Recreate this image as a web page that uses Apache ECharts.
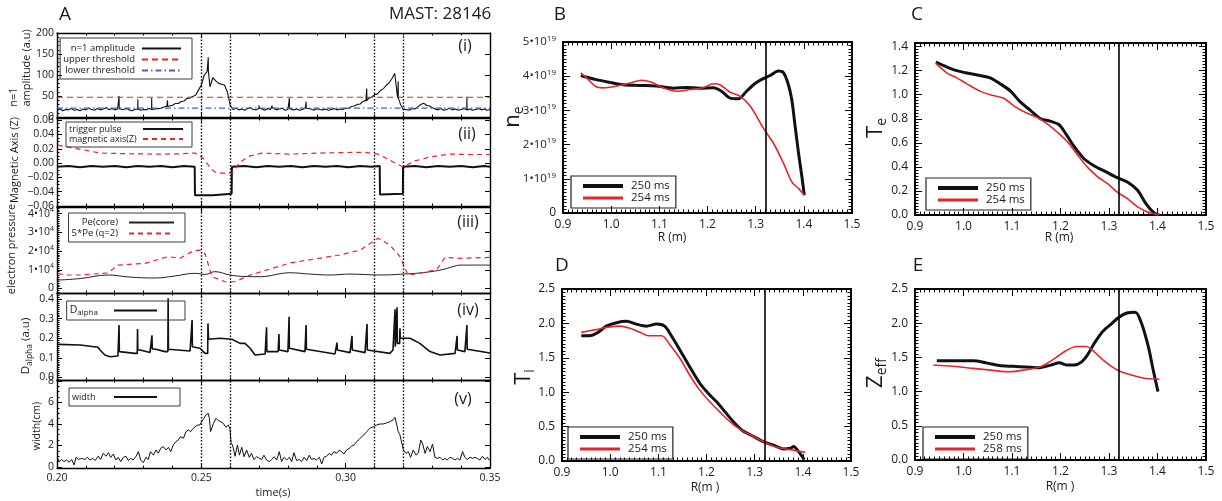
<!DOCTYPE html>
<html><head><meta charset="utf-8">
<script src="https://cdn.jsdelivr.net/npm/echarts@6/dist/echarts.min.js"></script>
<style>html,body{margin:0;padding:0;background:#fff}#c{width:1222px;height:501px}</style>
</head><body><div id="c"></div>
<script>
// ================= DATA =================
const eventLines = [0.2478, 0.2606, 0.3119, 0.3199];
const rSeparatrix = 1.317;

// (i) n=1 amplitude sampled every 1 ms from 0.200 s
const n1Start = 0.200, n1Step = 0.001;
const n1Amplitude = [
16,19,15,18,17,20,16,18,15,19,17,21,18,16,20,17,19,22,18,20,
17,19,16,18,20,17,15,18,19,16,18,17,20,18,19,20,
21,24,25,28,28,32,32,37,38,44,45,49,52,64,76,100,108,72,94,86,80,78,76,60,28,
18,21,17,19,16,20,22,18,17,21,19,16,20,18,22,17,19,21,16,18,20,17,19,16,18,21,17,19,16,20,18,17,19,16,18,20,17,19,18,21,
21,25,26,30,31,37,39,45,47,53,55,63,67,75,81,91,104,45,30,18,
18,16,20,19,24,30,33,28,26,22,19,17,20,16,18,21,17,19,16,18,20,17,19,16,18,20,17,19,16,18];
const n1Spikes = [[0.2215,50],[0.2280,42],[0.2328,45],[0.2383,40],[0.2524,142],[0.2700,28],[0.2745,27],[0.2805,45],[0.2863,36],[0.3073,68],[0.3182,85],[0.3420,48]];
const upperThreshold = 47;
const lowerThreshold = 21;

// (ii)
const triggerPulse = [[0.2000,-0.005],[0.2040,-0.004],[0.2080,-0.006],[0.2120,-0.004],[0.2160,-0.005],[0.2200,-0.004],[0.2240,-0.006],[0.2280,-0.004],[0.2320,-0.005],[0.2360,-0.004],[0.2400,-0.006],[0.2440,-0.004],[0.2477,-0.005],[0.2478,-0.045],[0.2540,-0.045],[0.2605,-0.043],[0.2606,-0.005],[0.2650,-0.004],[0.2690,-0.006],[0.2730,-0.004],[0.2770,-0.005],[0.2810,-0.004],[0.2850,-0.006],[0.2890,-0.004],[0.2930,-0.005],[0.2970,-0.004],[0.3010,-0.006],[0.3050,-0.004],[0.3090,-0.005],[0.3118,-0.004],[0.3119,-0.044],[0.3198,-0.043],[0.3199,-0.005],[0.3240,-0.004],[0.3280,-0.006],[0.3320,-0.004],[0.3360,-0.005],[0.3400,-0.004],[0.3440,-0.006],[0.3480,-0.004],[0.3500,-0.005]];
const magneticAxisZ = [[0.2003,0.025],[0.2045,0.022],[0.2097,0.018],[0.2149,0.014],[0.2253,0.013],[0.2357,0.0125],[0.2426,0.013],[0.2478,0.014],[0.2506,0.007],[0.2530,-0.006],[0.2547,-0.0125],[0.2572,-0.014],[0.2606,-0.014],[0.2634,0.0015],[0.2669,0.010],[0.2710,0.014],[0.2807,0.0125],[0.2911,0.014],[0.3032,0.015],[0.3067,0.015],[0.3112,0.0125],[0.3153,0.004],[0.3199,-0.0055],[0.3240,0.003],[0.3292,0.0085],[0.3361,0.0125],[0.3431,0.012],[0.3500,0.012]];

// (iii)
const peCore = [[0.2003,4500],[0.2080,5300],[0.2177,7200],[0.2253,6100],[0.2339,5600],[0.2409,6700],[0.2478,8100],[0.2513,7500],[0.2547,9000],[0.2599,7200],[0.2651,6400],[0.2703,6300],[0.2807,8400],[0.2876,7700],[0.2946,7200],[0.3015,7700],[0.3119,7200],[0.3199,7700],[0.3257,8300],[0.3327,9800],[0.3379,12000],[0.3396,12500],[0.3500,12500]];
const pe5q2 = [[0.2003,8100],[0.2028,7200],[0.2080,7200],[0.2177,8300],[0.2211,12500],[0.2305,13400],[0.2385,17000],[0.2426,16100],[0.2471,20000],[0.2495,20500],[0.2513,18400],[0.2537,6300],[0.2582,3600],[0.2617,3600],[0.2669,7200],[0.2807,13600],[0.2980,17900],[0.3050,20500],[0.3112,26800],[0.3153,23200],[0.3188,17000],[0.3216,7200],[0.3257,8100],[0.3316,10200],[0.3344,16600],[0.3396,16100],[0.3500,16600]];

// (iv)
const dAlpha = [[0.2003,0.169],[0.2080,0.166],[0.2142,0.154],[0.2149,0.140],[0.2166,0.115],[0.2184,0.106],[0.2211,0.110],
[0.2214,0.110],[0.2215,0.268],[0.2216,0.132],[0.2222,0.132],[0.2270,0.123],
[0.2278,0.123],[0.2279,0.247],[0.2280,0.140],[0.2288,0.140],[0.2322,0.127],
[0.2328,0.127],[0.2329,0.215],[0.2330,0.145],[0.2339,0.145],[0.2374,0.132],
[0.2384,0.132],[0.2385,0.404],[0.2386,0.144],[0.2391,0.144],[0.2461,0.135],
[0.2467,0.135],[0.2468,0.293],[0.2469,0.157],[0.2475,0.157],[0.2495,0.149],[0.2513,0.123],
[0.2522,0.123],[0.2523,0.276],[0.2525,0.195],[0.2530,0.195],[0.2565,0.200],[0.2606,0.195],[0.2634,0.174],[0.2651,0.174],[0.2669,0.149],[0.2686,0.115],[0.2721,0.120],
[0.2725,0.120],[0.2726,0.256],[0.2727,0.132],[0.2731,0.132],[0.2766,0.132],
[0.2768,0.132],[0.2769,0.222],[0.2770,0.140],[0.2776,0.140],[0.2800,0.132],
[0.2803,0.132],[0.2804,0.310],[0.2805,0.149],[0.2811,0.149],[0.2859,0.132],
[0.2862,0.132],[0.2863,0.268],[0.2864,0.144],[0.2869,0.144],[0.2963,0.120],
[0.2969,0.120],[0.2970,0.178],[0.2971,0.140],[0.2977,0.140],[0.3015,0.127],
[0.3021,0.127],[0.3022,0.212],[0.3023,0.140],[0.3029,0.140],[0.3067,0.127],
[0.3073,0.127],[0.3074,0.273],[0.3075,0.140],[0.3081,0.140],[0.3153,0.123],[0.3164,0.140],
[0.3170,0.140],[0.3171,0.348],[0.3172,0.157],[0.3174,0.157],
[0.3177,0.157],[0.3178,0.358],[0.3179,0.174],[0.3183,0.174],
[0.3187,0.174],[0.3188,0.251],[0.3189,0.200],
[0.3195,0.200],[0.3223,0.200],[0.3257,0.174],[0.3292,0.132],[0.3327,0.115],[0.3379,0.123],
[0.3385,0.123],[0.3386,0.212],[0.3387,0.140],[0.3393,0.140],[0.3413,0.132],
[0.3419,0.132],[0.3420,0.268],[0.3421,0.144],[0.3427,0.144],[0.3500,0.125]];

// (v)
const modeWidth = [
[0.2001,0.9],[0.2008,0.5],[0.2016,0.7],[0.2024,0.5],[0.2033,0.65],[0.2042,0.43],[0.2051,0.7],[0.2059,0.19],[0.2066,0.9],[0.2074,0.7],
[0.2085,0.8],[0.2097,0.7],[0.2105,0.9],[0.2114,0.65],[0.2124,0.8],[0.2132,0.6],[0.2143,1.0],[0.2151,0.7],[0.2160,1.27],[0.2170,1.0],
[0.2178,1.33],[0.2186,0.9],[0.2195,1.2],[0.2204,0.65],[0.2212,0.9],[0.2221,0.5],[0.2230,0.9],[0.2239,1.0],[0.2247,0.6],[0.2255,0.8],
[0.2264,0.65],[0.2274,1.0],[0.2282,1.43],[0.2290,0.65],[0.2299,0.4],[0.2308,0.9],[0.2316,0.7],[0.2324,1.43],[0.2334,1.1],[0.2343,1.58],
[0.2351,1.27],[0.2359,1.74],[0.2368,1.9],[0.2378,1.58],[0.2386,1.83],[0.2394,1.43],[0.2403,2.05],[0.2412,2.36],[0.2420,2.5],[0.2428,2.82],
[0.2438,2.67],[0.2447,3.29],[0.2455,3.44],[0.2463,3.29],[0.2472,3.6],[0.2478,3.69],[0.2486,3.9],[0.2495,3.9],[0.2501,4.22],[0.2509,4.53],
[0.2516,4.84],[0.2524,4.99],[0.2528,4.53],[0.2532,3.29],[0.2542,4.06],[0.2551,4.53],[0.2559,4.31],[0.2567,4.22],[0.2576,4.06],[0.2585,3.69],
[0.2593,3.9],[0.2599,3.6],[0.2603,2.26],[0.2608,2.05],[0.2617,1.0],[0.2625,2.05],[0.2632,1.1],[0.2640,1.83],[0.2648,0.96],[0.2657,1.58],
[0.2666,0.9],[0.2674,1.27],[0.2682,0.7],[0.2692,0.96],[0.2701,0.8],[0.2709,0.7],[0.2717,1.1],[0.2726,0.65],[0.2735,0.5],[0.2744,0.7],
[0.2752,0.96],[0.2761,0.65],[0.2770,1.43],[0.2778,0.5],[0.2786,0.9],[0.2796,0.65],[0.2805,0.9],[0.2813,0.5],[0.2821,1.33],[0.2830,0.6],
[0.2839,0.7],[0.2847,0.5],[0.2856,0.9],[0.2865,0.6],[0.2874,1.1],[0.2882,0.7],[0.2890,0.8],[0.2899,0.65],[0.2909,0.9],[0.2917,0.28],
[0.2925,0.9],[0.2934,1.0],[0.2943,1.27],[0.2951,1.1],[0.2959,1.43],[0.2969,1.27],[0.2978,1.58],[0.2986,1.43],[0.2994,1.2],[0.3003,1.58],
[0.3013,1.74],[0.3021,1.95],[0.3029,2.05],[0.3038,2.36],[0.3047,2.57],[0.3055,2.82],[0.3063,2.98],[0.3073,3.29],[0.3084,3.6],[0.3096,3.75],
[0.3107,3.9],[0.3119,4.0],[0.3130,4.0],[0.3142,4.1],[0.3153,4.2],[0.3165,4.4],[0.3171,4.62],[0.3177,3.9],[0.3182,3.3],[0.3188,3.0],
[0.3194,2.9],[0.3200,1.58],[0.3209,1.27],[0.3217,1.43],[0.3225,0.9],[0.3234,1.58],[0.3244,1.1],[0.3252,1.33],[0.3260,2.5],[0.3267,2.14],
[0.3275,1.27],[0.3283,1.9],[0.3292,1.43],[0.3301,2.14],[0.3309,0.9],[0.3317,0.8],[0.3327,0.9],[0.3336,0.65],[0.3344,0.8],[0.3352,0.65],
[0.3361,0.9],[0.3371,0.8],[0.3379,0.65],[0.3387,0.8],[0.3396,0.65],[0.3405,1.43],[0.3413,0.9],[0.3421,0.7],[0.3431,0.9],[0.3440,0.8],
[0.3448,0.9],[0.3456,0.8],[0.3465,0.65],[0.3474,1.0],[0.3483,0.7],[0.3491,0.9],[0.3498,0.6]];

// tick labels
const ampTicks = [0,50,100,150,200];
const zTicks = [-0.06,-0.04,-0.02,0,0.02,0.04,0.06];
const peTicks = [0,10000,20000,30000,40000];
const daTicks = [0,0.1,0.2,0.3,0.4];
const widthTicks = [0,2,4,6,8];
const neTicks = [0,1,2,3,4,5];
const teTicks = [0,0.2,0.4,0.6,0.8,1.0,1.2,1.4];
const tiTicks = [0,0.5,1.0,1.5,2.0,2.5];
const zeffTicks = [0,0.5,1.0,1.5,2.0,2.5];

// profiles (R in m)  ne in units of 1e19 m^-3
const ne250 = [[0.937,4.02],[0.969,3.90],[0.997,3.82],[1.025,3.75],[1.059,3.73],[1.094,3.71],[1.129,3.65],[1.157,3.67],[1.184,3.65],[1.212,3.66],[1.229,3.56],[1.247,3.36],[1.264,3.34],[1.281,3.56],[1.298,3.78],[1.316,3.93],[1.330,4.02],[1.347,4.15],[1.358,4.10],[1.368,3.75],[1.375,3.31],[1.382,2.53],[1.389,1.75],[1.396,1.06],[1.401,0.52]];
const ne254 = [[0.937,4.10],[0.949,3.95],[0.969,3.69],[0.983,3.66],[1.011,3.71],[1.039,3.80],[1.063,3.88],[1.084,3.82],[1.108,3.66],[1.136,3.56],[1.164,3.61],[1.191,3.66],[1.212,3.78],[1.226,3.75],[1.247,3.53],[1.268,3.41],[1.289,3.12],[1.316,2.48],[1.337,2.04],[1.358,1.45],[1.375,0.91],[1.389,0.72],[1.401,0.52]];
const te250 = [[0.943,1.27],[0.966,1.23],[0.986,1.20],[1.007,1.18],[1.034,1.16],[1.055,1.14],[1.076,1.09],[1.097,1.03],[1.117,0.94],[1.138,0.87],[1.159,0.80],[1.179,0.78],[1.197,0.75],[1.210,0.68],[1.228,0.57],[1.248,0.47],[1.269,0.41],[1.293,0.36],[1.317,0.31],[1.338,0.275],[1.359,0.205],[1.376,0.095],[1.393,0.017],[1.403,0.003]];
const te254 = [[0.943,1.26],[0.966,1.18],[0.986,1.14],[1.007,1.09],[1.034,1.03],[1.055,1.00],[1.083,0.97],[1.103,0.91],[1.124,0.86],[1.152,0.81],[1.172,0.76],[1.193,0.69],[1.214,0.61],[1.234,0.505],[1.255,0.40],[1.276,0.32],[1.297,0.26],[1.317,0.19],[1.338,0.136],[1.359,0.067],[1.379,0.025],[1.403,0.003]];
const ti250 = [[0.940,1.82],[0.957,1.82],[0.975,1.87],[0.992,1.96],[1.013,2.01],[1.034,2.03],[1.054,1.99],[1.075,1.96],[1.096,1.99],[1.113,1.96],[1.127,1.82],[1.145,1.61],[1.165,1.37],[1.186,1.13],[1.204,0.98],[1.221,0.86],[1.239,0.71],[1.256,0.57],[1.273,0.45],[1.297,0.36],[1.318,0.28],[1.339,0.23],[1.360,0.175],[1.374,0.185],[1.381,0.21],[1.388,0.165],[1.403,0.02]];
const ti254 = [[0.940,1.87],[0.971,1.91],[0.999,1.95],[1.020,1.96],[1.041,1.93],[1.062,1.87],[1.080,1.82],[1.107,1.82],[1.124,1.69],[1.145,1.49],[1.165,1.25],[1.186,1.03],[1.207,0.86],[1.228,0.71],[1.249,0.57],[1.270,0.46],[1.297,0.36],[1.318,0.28],[1.346,0.20],[1.374,0.165],[1.405,0.125]];
const zeff250 = [[0.945,1.45],[0.979,1.45],[1.020,1.45],[1.047,1.42],[1.074,1.38],[1.102,1.37],[1.129,1.36],[1.157,1.35],[1.181,1.39],[1.198,1.42],[1.212,1.39],[1.229,1.39],[1.243,1.43],[1.256,1.54],[1.270,1.71],[1.287,1.88],[1.305,1.99],[1.319,2.08],[1.337,2.15],[1.354,2.16],[1.367,2.00],[1.381,1.66],[1.391,1.32],[1.401,1.00]];
const zeff258 = [[0.938,1.39],[0.979,1.37],[1.020,1.34],[1.061,1.31],[1.095,1.29],[1.129,1.32],[1.157,1.36],[1.174,1.42],[1.191,1.50],[1.212,1.60],[1.233,1.66],[1.253,1.66],[1.267,1.60],[1.288,1.46],[1.305,1.37],[1.319,1.31],[1.343,1.25],[1.370,1.20],[1.404,1.18]];

// ================= BUILD =================
const FONT = 'Open Sans';
const RED = '#e3262d', BLUE = '#4f5fc4', BLK = '#111';
function stepList(a, b, step) { const out = []; const n = Math.round((b - a) / step); for (let i = 0; i <= n; i++) out.push(+(a + i * step).toFixed(6)); return out; }

const grids = [], xAxes = [], yAxes = [], series = [];
function panel(box, xo, yo) {
  const gi = grids.length;
  grids.push({left: box.l, top: box.t, width: box.w, height: box.h});
  const line = {show: true, onZero: false, lineStyle: {color: '#000', width: box.lw}};
  const ts = {color: '#000', width: 1};
  const xi = xAxes.length;
  ['bottom', 'top'].forEach((pos, k) => {
    xAxes.push({type: 'value', gridIndex: gi, position: pos, min: xo.min, max: xo.max, interval: xo.interval,
      axisLine: line, splitLine: {show: false},
      axisTick: {show: true, inside: true, length: xo.tick, lineStyle: ts},
      minorTick: {show: true, splitNumber: xo.minor, length: xo.minorLen, lineStyle: ts},
      axisLabel: {show: k === 0 && !!xo.labels, margin: xo.margin, formatter: xo.fmt, color: '#1a1a1a', fontSize: xo.fs, fontFamily: FONT}});
  });
  const yi = yAxes.length;
  const yb = {type: 'value', gridIndex: gi, min: yo.min, max: yo.max, splitLine: {show: false}};
  yAxes.push(Object.assign({}, yb, {position: 'left', axisLine: line,
    axisTick: {show: true, inside: true, length: yo.tick, lineStyle: ts, customValues: yo.ticks},
    axisLabel: {show: true, margin: yo.margin, customValues: yo.ticks, formatter: yo.fmt, color: '#1a1a1a', fontSize: yo.fs, fontFamily: FONT, rich: yo.rich || {}}}));
  yAxes.push(Object.assign({}, yb, {position: 'left', axisLine: {show: false}, axisLabel: {show: false},
    axisTick: {show: true, inside: true, length: yo.minorLen, lineStyle: ts, customValues: yo.minorVals}}));
  yAxes.push(Object.assign({}, yb, {position: 'right', axisLine: line, axisLabel: {show: false},
    axisTick: {show: true, inside: true, length: yo.tick, lineStyle: ts, customValues: yo.ticks}}));
  if (yo.rightMinor) yAxes.push(Object.assign({}, yb, {position: 'right', axisLine: {show: false}, axisLabel: {show: false},
    axisTick: {show: true, inside: true, length: yo.minorLen, lineStyle: ts, customValues: yo.minorVals}}));
  return {xi, yi};
}
function addLine(name, data, ax, color, width, type, extra) {
  const s = Object.assign({type: 'line', name, data, xAxisIndex: ax.xi, yAxisIndex: ax.yi, symbol: 'none', showSymbol: false,
    silent: true, animation: false, itemStyle: {color}, lineStyle: {color, width, type: type || 'solid'}}, extra || {});
  series.push(s);
  return s;
}
const supRich = {a: {fontSize: 10.5, fontFamily: FONT, color: '#1a1a1a', lineHeight: 14}, s: {fontSize: 7, fontFamily: FONT, color: '#1a1a1a', verticalAlign: 'top', lineHeight: 8}};
const supRichB = {a: {fontSize: 11.5, fontFamily: FONT, color: '#1a1a1a', lineHeight: 15}, s: {fontSize: 8, fontFamily: FONT, color: '#1a1a1a', verticalAlign: 'top', lineHeight: 8}};
const minus = v => (v < 0 ? '\u2212' : '');

// ---- left column ----
const LX = {min: 0.2, max: 0.35, interval: 0.05, minor: 5, tick: 5, minorLen: 2.5, fmt: v => v.toFixed(2), fs: 10.5, margin: 5};
const LB = (t, h) => ({l: 57, t, w: 433, h, lw: 1.4});
const dotted = () => ({silent: true, symbol: ['none', 'none'], label: {show: false}, animation: false,
  lineStyle: {type: [1.5, 1.8], color: '#000', width: 1.4}, data: eventLines.map(t => ({xAxis: t}))});

const a1 = panel(LB(33, 84), LX, {min: 0, max: 200, ticks: ampTicks, minorVals: stepList(0, 200, 10), tick: 5, minorLen: 2.5, fmt: v => String(v), fs: 10.5, margin: 3});
const a2 = panel(LB(118, 88), LX, {min: -0.06, max: 0.063, ticks: zTicks, minorVals: stepList(-0.06, 0.06, 0.005), tick: 5, minorLen: 2.5, fmt: v => minus(v) + Math.abs(v).toFixed(2), fs: 10.5, margin: 3});
const a3 = panel(LB(207, 86), LX, {min: -2400, max: 43500, ticks: peTicks, minorVals: stepList(-2000, 43000, 1000), tick: 5, minorLen: 2.5, fmt: v => v === 0 ? '0' : '{a|' + (v / 1e4) + '\u202210}{s|4}', rich: supRich, fs: 10.5, margin: 3});
const a4 = panel(LB(293, 87), LX, {min: -0.0128, max: 0.431, ticks: daTicks, minorVals: stepList(-0.01, 0.43, 0.01), tick: 5, minorLen: 2.5, fmt: v => v.toFixed(1), fs: 10.5, margin: 3});
const a5 = panel(LB(380, 88), Object.assign({}, LX, {labels: true}), {min: -0.093, max: 8.09, ticks: widthTicks, minorVals: stepList(0, 8, 0.5), tick: 5, minorLen: 2.5, fmt: v => String(v), fs: 10.5, margin: 3});

// (i)
const n1Points = n1Amplitude.map((v, i) => [+(n1Start + i * n1Step).toFixed(4), v]);
n1Spikes.forEach(([t, p]) => { const base = n1Amplitude[Math.round((t - n1Start) / n1Step)]; n1Points.push([t - 0.00005, base], [t, p], [t + 0.00005, base]); });
n1Points.sort((a, b) => a[0] - b[0]);
addLine('n=1 amplitude', n1Points, a1, BLK, 1.1, 'solid', {markLine: dotted()});
addLine('upper threshold', [[0.2, upperThreshold], [0.35, upperThreshold]], a1, RED, 1.2, [6, 4]);
addLine('lower threshold', [[0.2, lowerThreshold], [0.35, lowerThreshold]], a1, BLUE, 1.2, [6, 3, 1.5, 3]);
// (ii)
addLine('trigger pulse', triggerPulse, a2, BLK, 2, 'solid', {markLine: dotted()});
addLine('magnetic axis(Z)', magneticAxisZ, a2, RED, 1.2, [5, 4]);
// (iii)
addLine('Pe(core)', peCore, a3, '#222', 1, 'solid', {smooth: 0.4, markLine: dotted()});
addLine('5*Pe (q=2)', pe5q2, a3, RED, 1.2, [5, 4]);
// (iv)
addLine('Dalpha', dAlpha, a4, BLK, 1.6, 'solid', {markLine: dotted()});
// (v)
addLine('width', modeWidth, a5, BLK, 1, 'solid', {markLine: dotted()});

// ---- right column ----
const RX = {min: 0.9, max: 1.5, interval: 0.1, minor: 10, tick: 7, minorLen: 3.5, labels: true, fmt: v => v.toFixed(1), fs: 12, margin: 6};
const sepLine = () => ({silent: true, symbol: ['none', 'none'], label: {show: false}, animation: false,
  lineStyle: {type: 'solid', color: '#000', width: 1.6}, data: [{xAxis: rSeparatrix}]});
const ryBase = {tick: 7, minorLen: 3.5, fs: 12, margin: 7, rightMinor: true};
const b = panel({l: 563, t: 42, w: 289, h: 171, lw: 2}, RX, Object.assign({}, ryBase, {min: 0, max: 5, ticks: neTicks, minorVals: stepList(0, 5, 0.1), fmt: v => v === 0 ? '0' : '{a|' + v + '\u202210}{s|19}', rich: supRichB}));
const c = panel({l: 915, t: 43, w: 291, h: 172, lw: 2}, RX, Object.assign({}, ryBase, {min: 0, max: 1.43, ticks: teTicks, minorVals: stepList(0, 1.425, 0.025), fmt: v => v.toFixed(1)}));
const d = panel({l: 562, t: 289, w: 289, h: 172, lw: 2}, RX, Object.assign({}, ryBase, {min: 0, max: 2.5, ticks: tiTicks, minorVals: stepList(0, 2.5, 0.05), fmt: v => v.toFixed(1)}));
const e = panel({l: 915, t: 289, w: 291, h: 171, lw: 2}, RX, Object.assign({}, ryBase, {min: 0, max: 2.5, ticks: zeffTicks, minorVals: stepList(0, 2.5, 0.05), fmt: v => v.toFixed(1)}));

addLine('250 ms', ne250, b, BLK, 3, 'solid', {smooth: 0.3, markLine: sepLine()});
addLine('254 ms', ne254, b, RED, 1.6, 'solid', {smooth: 0.3});
addLine('250 ms', te250, c, BLK, 3, 'solid', {smooth: 0.3, markLine: sepLine()});
addLine('254 ms', te254, c, RED, 1.6, 'solid', {smooth: 0.3});
addLine('250 ms', ti250, d, BLK, 3, 'solid', {smooth: 0.3, markLine: sepLine()});
addLine('254 ms', ti254, d, RED, 1.6, 'solid', {smooth: 0.3});
addLine('250 ms', zeff250, e, BLK, 3, 'solid', {smooth: 0.3, markLine: sepLine()});
addLine('258 ms', zeff258, e, RED, 1.6, 'solid', {smooth: 0.3});

// ---- legends ----
const lgBase = {orient: 'vertical', selectedMode: false, borderColor: '#3a3a3a', borderWidth: 1, borderRadius: 0, backgroundColor: 'rgba(0,0,0,0)', inactiveColor: '#000', itemStyle: {opacity: 0}};
const smallText = (fs, lh, tok) => ({fontFamily: FONT, fontSize: fs, color: '#222', lineHeight: lh, rich: tok});
const legends = [
  Object.assign({}, lgBase, {right: 1030, top: 38, align: 'right', itemWidth: 39, itemHeight: 11, itemGap: 0, padding: [5, 10, 3, 3],
    data: ['n=1 amplitude', 'upper threshold', 'lower threshold'], formatter: n => '{t|' + n + '}',
    textStyle: smallText(9.5, 11, {t: {fontFamily: FONT, fontSize: 9.5, color: '#222', lineHeight: 11, padding: [0, 2, 0, 0]}})}),
  Object.assign({}, lgBase, {right: 1030, top: 122, align: 'right', itemWidth: 40, itemHeight: 10, itemGap: 0, padding: [2, 8, 3, 3],
    data: ['trigger pulse', 'magnetic axis(Z)'], formatter: n => '{t|' + n + '}',
    textStyle: smallText(9, 10, {t: {fontFamily: FONT, fontSize: 9, color: '#222', lineHeight: 10, width: 69, align: 'left'}})}),
  Object.assign({}, lgBase, {right: 1037, top: 213, align: 'right', itemWidth: 45, itemHeight: 11, itemGap: 0, padding: [4, 10, 3, 3],
    data: ['Pe(core)', '5*Pe (q=2)'], formatter: n => '{t|' + n + '}',
    textStyle: smallText(9.5, 11, {t: {fontFamily: FONT, fontSize: 9.5, color: '#222', lineHeight: 11, padding: [0, 6, 0, 0]}})}),
  Object.assign({}, lgBase, {right: 1037, top: 301, align: 'right', itemWidth: 43, itemHeight: 12, itemGap: 0, padding: [3, 27, 3, 3],
    data: ['Dalpha'], formatter: () => '{m|D}{s|alpha}',
    textStyle: smallText(10.5, 12, {m: {fontFamily: FONT, fontSize: 10.5, color: '#222', lineHeight: 13}, s: {fontFamily: FONT, fontSize: 8, color: '#222', lineHeight: 8, verticalAlign: 'bottom', padding: [0, 11, 0, 0]}})}),
  Object.assign({}, lgBase, {right: 1042, top: 388, align: 'right', itemWidth: 43, itemHeight: 12, itemGap: 0, padding: [3, 22, 3, 3],
    data: ['width'], formatter: n => '{t|' + n + '}',
    textStyle: smallText(9, 12, {t: {fontFamily: FONT, fontSize: 9, color: '#222', lineHeight: 12, width: 37, align: 'left'}})})
];
const profLegend = (left, top, names) => Object.assign({}, lgBase, {left, top, align: 'left', itemWidth: 40, itemHeight: 9, itemGap: 0, padding: [4, 6, 4, 10], borderColor: '#222', borderWidth: 1.2,
  data: [{name: names[0], lineStyle: {width: 4}}, {name: names[1], lineStyle: {width: 3}}], formatter: n => '{t|' + n + '}',
  textStyle: smallText(11.5, 9, {t: {fontFamily: FONT, fontSize: 11.5, color: '#222', lineHeight: 9, padding: [0, 0, 0, 3]}})});
legends.push(profLegend(571, 176, ['250 ms', '254 ms']));
legends.push(profLegend(926, 178, ['250 ms', '254 ms']));
legends.push(profLegend(568, 427, ['250 ms', '254 ms']));
legends.push(profLegend(923, 427, ['250 ms', '258 ms']));

// ---- texts ----
function txt(x, y, text, fs, opt) {
  opt = opt || {};
  return {type: 'text', x, y, rotation: opt.rot || 0, silent: true, z: 10,
    style: {text, fontFamily: FONT, fontSize: fs, fill: '#1a1a1a', align: opt.align || 'center', verticalAlign: 'middle', rich: opt.rich}};
}
const R90 = Math.PI / 2;
const subRich = (m, s) => ({m: {fontFamily: FONT, fontSize: m, fill: '#1a1a1a', color: '#1a1a1a', lineHeight: m + 4}, s: {fontFamily: FONT, fontSize: s, fill: '#1a1a1a', color: '#1a1a1a', lineHeight: s, verticalAlign: 'bottom'}});
const graphics = [
  txt(65, 15, 'A', 19), txt(440, 14, 'MAST: 28146', 17),
  txt(560, 15, 'B', 19), txt(917, 15, 'C', 19), txt(562, 266, 'D', 19), txt(918, 266, 'E', 19),
  txt(465, 46, '(i)', 16), txt(467, 134, '(ii)', 16), txt(468, 222, '(iii)', 16), txt(468, 310, '(iv)', 16), txt(463, 399, '(v)', 16),
  txt(273, 493, 'time(s)', 11),
  txt(672, 238, 'R (m)', 12), txt(1059, 238, 'R (m)', 12), txt(705, 488, 'R(m )', 12), txt(1060, 487, 'R(m )', 12),
  txt(14, 97, 'n=1', 11, {rot: R90}), txt(27, 68, 'amplitude (a.u)', 11, {rot: R90}),
  txt(15, 160, 'Magnetic Axis (Z)', 11, {rot: R90}), txt(12, 249, 'electron pressure', 11, {rot: R90}),
  txt(26, 346, '{m|D}{s|alpha}{m| (a.u)}', 11, {rot: R90, rich: subRich(11.5, 8.5)}),
  txt(37, 426, 'width(cm)', 10.5, {rot: R90}),
  txt(513, 117, '{m|n}{s|e}', 22, {rot: R90, rich: subRich(22, 14)}),
  txt(876, 128, '{m|T}{s|e}', 22, {rot: R90, rich: subRich(22, 14)}),
  txt(524, 377, '{m|T}{s|i}', 22, {rot: R90, rich: subRich(22, 14)}),
  txt(876, 373, '{m|Z}{s|eff}', 22, {rot: R90, rich: subRich(22, 14)})
];

const chart = echarts.init(document.getElementById('c'));
chart.setOption({
  animation: false,
  backgroundColor: '#fff',
  textStyle: {fontFamily: FONT},
  grid: grids, xAxis: xAxes, yAxis: yAxes, series, legend: legends, graphic: graphics
});
</script>
</body></html>
